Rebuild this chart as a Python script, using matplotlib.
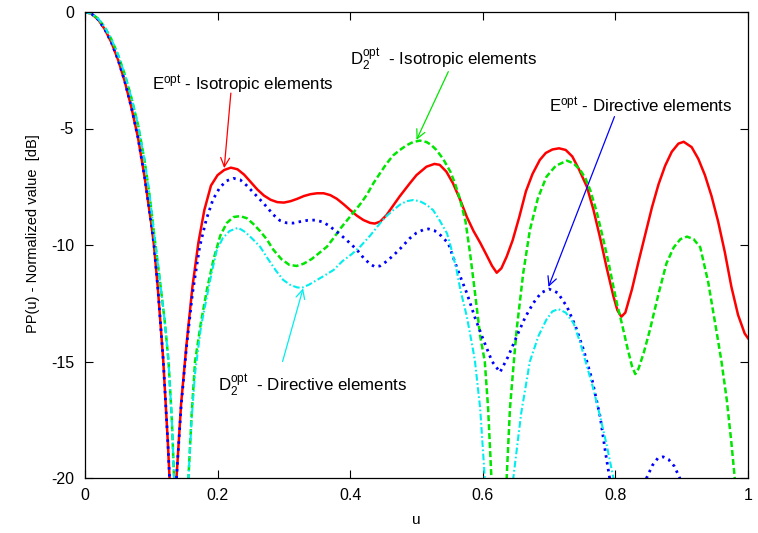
import matplotlib
matplotlib.use("Agg")
import matplotlib.pyplot as plt

plt.rcParams["font.family"] = ["Liberation Sans", "DejaVu Sans"]
plt.rcParams["mathtext.fontset"] = "custom"
plt.rcParams["mathtext.rm"] = "Liberation Sans"
plt.rcParams["mathtext.it"] = "Liberation Sans:italic"

# E^opt, isotropic elements
u_e_iso = [0, 0.01, 0.02, 0.03, 0.04, 0.05, 0.06, 0.07, 0.08, 0.09, 0.10, 0.104,
           0.11, 0.118, 0.125, 0.128, 0.133, 0.138, 0.145, 0.153, 0.162, 0.171,
           0.180, 0.190, 0.200, 0.210, 0.220, 0.230, 0.240, 0.250, 0.260, 0.270,
           0.280, 0.290, 0.300, 0.310, 0.320, 0.330, 0.340, 0.350, 0.360, 0.370,
           0.380, 0.390, 0.400, 0.410, 0.420, 0.430, 0.437, 0.445, 0.455, 0.465,
           0.475, 0.490, 0.500, 0.515, 0.527, 0.535, 0.545, 0.555, 0.566, 0.576,
           0.586, 0.596, 0.606, 0.614, 0.621, 0.628, 0.636, 0.645, 0.655, 0.665,
           0.675, 0.686, 0.695, 0.705, 0.715, 0.725, 0.735, 0.745, 0.757, 0.767,
           0.777, 0.787, 0.797, 0.803, 0.809, 0.815, 0.825, 0.835, 0.845, 0.855,
           0.865, 0.875, 0.885, 0.895, 0.903, 0.915, 0.925, 0.935, 0.945, 0.955,
           0.965, 0.975, 0.985, 0.995, 1.0]
db_e_iso = [0, -0.08, -0.33, -0.75, -1.32, -2.06, -2.98, -4.1, -5.4, -7.1, -9.1, -10.0,
            -11.9, -14.94, -18.5, -20.3, -35, -20, -16.8, -14.3, -11.8, -9.9,
            -8.5, -7.45, -7.0, -6.78, -6.68, -6.75, -6.98, -7.3, -7.62, -7.88,
            -8.06, -8.16, -8.18, -8.12, -8.02, -7.9, -7.82, -7.78, -7.78, -7.86,
            -8.02, -8.25, -8.5, -8.74, -8.93, -9.05, -9.08, -9.0, -8.71, -8.3,
            -7.9, -7.35, -7.0, -6.64, -6.52, -6.56, -6.85, -7.35, -8.07, -8.8,
            -9.4, -9.9, -10.45, -10.9, -11.19, -11.0, -10.5, -9.8, -8.8, -7.7,
            -6.95, -6.35, -6.05, -5.9, -5.85, -5.92, -6.2, -6.75, -7.5, -8.5,
            -9.7, -11.0, -12.2, -12.8, -13.08, -12.9, -11.9, -10.7, -9.55, -8.4,
            -7.4, -6.6, -6.0, -5.65, -5.57, -5.8, -6.3, -7.0, -7.9, -9.0,
            -10.3, -11.8, -13.0, -13.8, -14.0]

# D2^opt, isotropic elements
u_d_iso = [0, 0.01, 0.02, 0.03, 0.04, 0.05, 0.06, 0.07, 0.08, 0.09, 0.098, 0.105,
           0.112, 0.12, 0.126, 0.131, 0.135, 0.145, 0.156, 0.161, 0.166, 0.175,
           0.184, 0.194, 0.204, 0.214, 0.224, 0.234, 0.244, 0.254, 0.264, 0.274,
           0.284, 0.296, 0.308, 0.319, 0.330, 0.342, 0.353, 0.365, 0.375, 0.385,
           0.395, 0.405, 0.415, 0.425, 0.435, 0.445, 0.455, 0.465, 0.475, 0.485,
           0.495, 0.505, 0.515, 0.522, 0.530, 0.540, 0.551, 0.558, 0.566, 0.574,
           0.581, 0.588, 0.596, 0.603, 0.608, 0.613, 0.624, 0.636, 0.641, 0.647,
           0.651, 0.661, 0.671, 0.683, 0.696, 0.710, 0.727, 0.737, 0.747, 0.755,
           0.762, 0.772, 0.782, 0.790, 0.797, 0.803, 0.810, 0.818, 0.825, 0.830,
           0.835, 0.843, 0.852, 0.865, 0.877, 0.888, 0.898, 0.908, 0.918, 0.928,
           0.940, 0.953, 0.960, 0.968, 0.975, 0.980, 0.990]
db_d_iso = [0, -0.07, -0.29, -0.66, -1.18, -1.85, -2.68, -3.68, -4.85, -6.4, -8.0, -9.7,
            -11.3, -13.2, -15.0, -17.5, -20.5, -35, -20, -17.2, -15.0, -13.3,
            -11.9, -10.6, -9.6, -9.05, -8.8, -8.76, -8.85, -9.1, -9.4, -9.75,
            -10.2, -10.6, -10.85, -10.9, -10.8, -10.6, -10.35, -10.07, -9.7, -9.3,
            -8.95, -8.6, -8.25, -7.85, -7.35, -6.92, -6.5, -6.15, -5.92, -5.72,
            -5.58, -5.52, -5.58, -5.7, -5.92, -6.3, -6.85, -7.35, -8.07, -9.0,
            -10.4, -12.0, -13.9, -15.0, -17.0, -20, -35, -20, -17.0, -14.94,
            -13.65, -11.2, -9.36, -8.0, -7.07, -6.6, -6.38, -6.5, -6.78, -7.15,
            -7.64, -8.6, -9.79, -10.8, -11.79, -12.6, -13.4, -14.4, -15.2, -15.54,
            -15.3, -14.6, -13.65, -12.1, -10.79, -10.1, -9.75, -9.64, -9.75, -10.1,
            -11.6, -13.79, -15.0, -16.65, -18.5, -20, -30]

# E^opt, directive elements
u_e_dir = [0, 0.01, 0.02, 0.03, 0.04, 0.05, 0.06, 0.07, 0.08, 0.09, 0.10, 0.104,
           0.11, 0.118, 0.125, 0.128, 0.133, 0.138, 0.145, 0.153, 0.162, 0.173,
           0.183, 0.193, 0.203, 0.213, 0.224, 0.234, 0.244, 0.254, 0.264, 0.274,
           0.284, 0.294, 0.304, 0.314, 0.324, 0.336, 0.347, 0.357, 0.367, 0.376,
           0.385, 0.395, 0.410, 0.420, 0.430, 0.437, 0.445, 0.455, 0.465, 0.475,
           0.490, 0.500, 0.510, 0.518, 0.527, 0.537, 0.548, 0.560, 0.568, 0.576,
           0.588, 0.601, 0.614, 0.626, 0.638, 0.651, 0.664, 0.676, 0.688, 0.700,
           0.713, 0.727, 0.740, 0.752, 0.765, 0.777, 0.785, 0.793, 0.820, 0.847,
           0.856, 0.864, 0.872, 0.880, 0.889, 0.897, 0.920]
db_e_dir = [0, -0.08, -0.33, -0.75, -1.32, -2.06, -2.98, -4.1, -5.4, -7.1, -9.1, -10.0,
            -11.9, -14.94, -18.5, -20.3, -35, -20, -16.9, -14.4, -12.1, -10.07,
            -8.9, -8.05, -7.55, -7.25, -7.14, -7.2, -7.45, -7.75, -8.05, -8.36,
            -8.7, -8.95, -9.05, -9.06, -9.0, -8.94, -8.93, -9.0, -9.15, -9.35,
            -9.55, -9.8, -10.2, -10.55, -10.82, -10.93, -10.9, -10.7, -10.45, -10.17,
            -9.71, -9.48, -9.35, -9.31, -9.38, -9.6, -9.93, -10.9, -11.5, -12.07,
            -13.1, -14.08, -15.0, -15.46, -14.8, -13.93, -13.1, -12.5, -12.05, -11.89,
            -12.05, -12.65, -13.5, -14.5, -15.8, -17.37, -18.9, -20.3, -35, -20.0,
            -19.45, -19.15, -19.09, -19.2, -19.5, -20.0, -30]

# D2^opt, directive elements
u_d_dir = [0, 0.01, 0.02, 0.03, 0.04, 0.05, 0.06, 0.07, 0.08, 0.09, 0.098, 0.105,
           0.112, 0.12, 0.126, 0.131, 0.135, 0.145, 0.156, 0.161, 0.166, 0.175,
           0.184, 0.191, 0.199, 0.208, 0.218, 0.231, 0.242, 0.253, 0.264, 0.276,
           0.288, 0.299, 0.310, 0.320, 0.327, 0.338, 0.350, 0.362, 0.375, 0.388,
           0.402, 0.415, 0.430, 0.445, 0.455, 0.465, 0.475, 0.485, 0.495, 0.505,
           0.515, 0.525, 0.535, 0.546, 0.551, 0.560, 0.566, 0.576, 0.584, 0.588,
           0.596, 0.603, 0.625, 0.646, 0.658, 0.671, 0.684, 0.696, 0.705, 0.714,
           0.725, 0.737, 0.747, 0.757, 0.767, 0.777, 0.787, 0.797, 0.810, 0.820]
db_d_dir = [0, -0.07, -0.29, -0.66, -1.18, -1.85, -2.68, -3.68, -4.85, -6.4, -8.0, -9.7,
            -11.3, -13.2, -15.0, -17.5, -20.5, -35, -20, -17.4, -15.5, -13.5,
            -12.2, -11.2, -10.2, -9.7, -9.4, -9.26, -9.45, -9.75, -10.07, -10.6,
            -11.1, -11.5, -11.72, -11.82, -11.84, -11.7, -11.5, -11.3, -11.07, -10.7,
            -10.4, -10.07, -9.6, -9.07, -8.75, -8.5, -8.27, -8.12, -8.07, -8.12,
            -8.27, -8.5, -8.95, -9.5, -10.0, -11.0, -11.9, -13.08, -14.3, -14.94,
            -17.0, -20, -35, -20, -17.2, -15.0, -13.9, -13.2, -12.85, -12.75,
            -12.9, -13.36, -14.2, -15.2, -16.2, -17.37, -18.6, -20.0, -25, -35]

x_ticks = [0, 0.2, 0.4, 0.6, 0.8, 1]
x_labels = ["0", "0.2", "0.4", "0.6", "0.8", "1"]
y_ticks = [0, -5, -10, -15, -20]
y_labels = ["0", "-5", "-10", "-15", "-20"]

red, green, blue, cyan = "#ff0000", "#00e600", "#0000ff", "#00eeee"

fig = plt.figure(figsize=(7.58, 5.33), dpi=100)
ax = fig.add_axes([85 / 758, 1 - 478 / 533, 663 / 758, 466 / 533])

ax.plot(u_e_iso, db_e_iso, color=red, lw=1.8, solid_joinstyle="round")
ax.plot(u_d_iso, db_d_iso, color=green, lw=1.8, dashes=(2.4, 1.2))
ax.plot(u_e_dir, db_e_dir, color=blue, lw=2.0, dashes=(0.9, 1.6))
ax.plot(u_d_dir, db_d_dir, color=cyan, lw=1.5, dashes=(3.2, 1.2, 0.8, 1.2))

ax.set_xlim(0, 1)
ax.set_ylim(-20, 0)
ax.set_xticks(x_ticks, x_labels)
ax.set_yticks(y_ticks, y_labels)
ax.tick_params(direction="in", top=True, right=True, length=6, width=0.8,
               labelsize=11.5)
ax.tick_params(axis="y", pad=8)
ax.tick_params(axis="x", pad=7)
for s in ax.spines.values():
    s.set_linewidth(0.9)

ax.set_xlabel("u", fontsize=11)
ax.set_ylabel("PP(u) - Normalized value  [dB]", fontsize=10.5)
ax.xaxis.set_label_coords(0.5, -0.075)
ax.yaxis.set_label_coords(-0.068, 0.524)

# labels and arrows for each curve
labels = [
    (r"E$^{\rm opt}$ - Isotropic elements", (0.101, -3.35), (0.220, -3.48), (0.210, -6.7), red),
    (r"D$_2^{\rm opt}$  - Isotropic elements", (0.400, -2.27), (0.548, -2.56), (0.500, -5.49), green),
    (r"E$^{\rm opt}$ - Directive elements", (0.700, -4.32), (0.7986, -4.49), (0.699, -11.8), blue),
    (r"D$_2^{\rm opt}$  - Directive elements", (0.2006, -16.25), (0.298, -15.0), (0.329, -11.86), cyan),
]
for txt, pos, start, end, col in labels:
    ax.text(pos[0], pos[1], txt, fontsize=12.2, ha="left", va="baseline")
    ax.annotate("", xy=end, xytext=start,
                arrowprops=dict(arrowstyle="->", color=col, lw=0.9,
                                mutation_scale=16, shrinkA=0, shrinkB=0))

fig.savefig("out.png", dpi=100)
